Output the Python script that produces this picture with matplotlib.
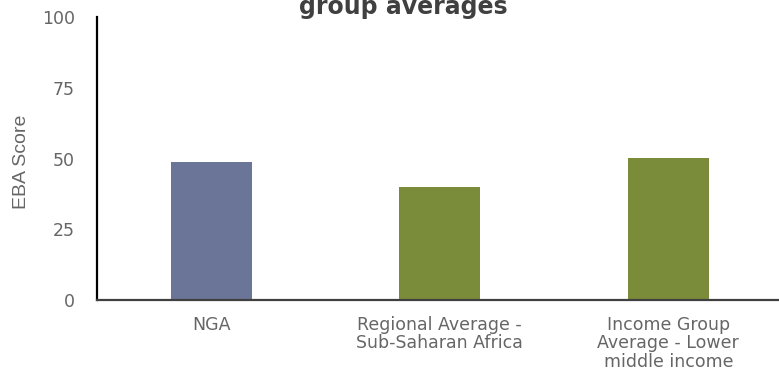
import matplotlib
matplotlib.use("Agg")
import matplotlib.pyplot as plt

plt.rcParams["font.family"] = ["DejaVu Sans"]

# ---- Data ----
categories = ["NGA",
              "Regional Average -\nSub-Saharan Africa",
              "Income Group\nAverage - Lower\nmiddle income"]
scores = [48.8, 40.0, 50.2]
bar_colors = ["#6b7597", "#7a8c3a", "#7a8c3a"]
yticks = [0, 25, 50, 75, 100]

TEXT = "#666666"

fig = plt.figure(figsize=(7.79, 3.70), dpi=100)
ax = fig.add_axes([0.1245, 0.189, 0.88, 0.765])

x = range(len(categories))
ax.bar(x, scores, width=0.355, color=bar_colors)

ax.set_xlim(-0.5, 2.5)
ax.set_ylim(0, 100)
ax.set_yticks(yticks)
ax.set_xticks(list(x))
ax.set_xticklabels(categories, fontsize=12.5, color=TEXT, linespacing=1.02)
ax.tick_params(axis="y", length=0, pad=16, labelsize=12.5, labelcolor=TEXT)
ax.tick_params(axis="x", length=0, pad=11.5)

for s in ["top", "right"]:
    ax.spines[s].set_visible(False)
ax.spines["left"].set_color("black")
ax.spines["left"].set_linewidth(1.6)
ax.spines["bottom"].set_color("#404040")
ax.spines["bottom"].set_linewidth(1.6)

ax.set_ylabel("EBA Score", fontsize=14, color=TEXT,
              family=["Liberation Sans", "DejaVu Sans"])
ax.yaxis.set_label_coords(-0.097, 0.488)

# title: only its last line is visible in the source image
fig.text(0.518, 0.962, "group averages", ha="center", va="baseline",
         fontsize=17, fontweight="bold", color="#404040")

fig.savefig("out.png", dpi=100, facecolor="white")
